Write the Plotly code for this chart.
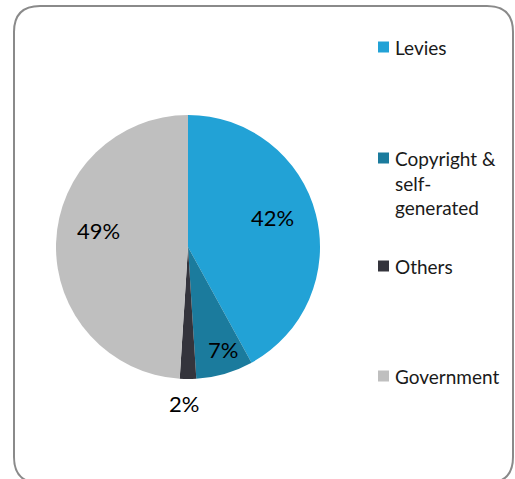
import math
import plotly.graph_objects as go

# Funding sources (share of total, %)
categories = ["Levies", "Copyright &<br>self-<br>generated", "Others", "Government"]
shares = [42, 7, 2, 49]
colors = ["#22A2D6", "#1B7B9D", "#34343C", "#BFBFBF"]

W, H = 515, 479
cx, cy, R = 188, 247, 132  # pie centre and radius in pixels

fig = go.Figure()
fig.add_trace(go.Pie(
    labels=categories,
    values=shares,
    marker=dict(colors=colors, line=dict(width=0)),
    sort=False,
    direction="clockwise",
    rotation=0,
    textinfo="none",
    hoverinfo="label+percent",
    showlegend=False,
    domain=dict(x=[(cx - R) / W, (cx + R) / W],
                y=[(H - cy - R) / H, (H - cy + R) / H]),
))

# percentage labels placed along each slice's mid-angle, with small nudges
label_radius = [0.68, 0.83, 1.21, 0.69]
label_dx = [-2, 4, -4, 2]
label_dy = [7, 3, 3, 14]
total = sum(shares)
cum = 0
annotations = []
for v, rf, dx, dy in zip(shares, label_radius, label_dx, label_dy):
    mid = (cum + v / 2) / total * 2 * math.pi
    cum += v
    px = cx + rf * R * math.sin(mid)
    py = cy - rf * R * math.cos(mid)
    annotations.append(dict(
        x=px / W, y=1 - py / H, xref="paper", yref="paper",
        xshift=dx, yshift=dy,
        text=f"{round(v / total * 100)}%", showarrow=False,
        font=dict(size=22, color="#000000", family="Lato, Open Sans, sans-serif"),
        xanchor="center", yanchor="middle",
    ))

# legend drawn on the right
shapes = []
legend_y = [47, 158, 266, 376]
for name, col, ly in zip(categories, colors, legend_y):
    shapes.append(dict(type="rect", xref="paper", yref="paper",
                       x0=378 / W, x1=389 / W,
                       y0=1 - (ly + 5.5) / H, y1=1 - (ly - 5.5) / H,
                       fillcolor=col, line=dict(width=0)))
    annotations.append(dict(
        x=393 / W, y=1 - (ly - 13) / H, xref="paper", yref="paper",
        text=name, showarrow=False, align="left",
        xanchor="left", yanchor="top",
        font=dict(size=19, color="#1A1A1A", family="Lato, Open Sans, sans-serif"),
    ))

# rounded outer frame
x0, x1 = 14 / W, 513 / W
y0, y1 = 1 - 483 / H, 1 - 6 / H
rx, ry = 26 / W, 26 / H
path = (f"M {x0 + rx},{y1} L {x1 - rx},{y1} Q {x1},{y1} {x1},{y1 - ry} "
        f"L {x1},{y0 + ry} Q {x1},{y0} {x1 - rx},{y0} "
        f"L {x0 + rx},{y0} Q {x0},{y0} {x0},{y0 + ry} "
        f"L {x0},{y1 - ry} Q {x0},{y1} {x0 + rx},{y1} Z")
shapes.append(dict(type="path", xref="paper", yref="paper", path=path,
                   line=dict(color="#8A8A8A", width=2), fillcolor="rgba(0,0,0,0)"))

fig.update_layout(
    width=W, height=H,
    margin=dict(l=0, r=0, t=0, b=0),
    paper_bgcolor="white", plot_bgcolor="white",
    shapes=shapes, annotations=annotations,
)

fig.write_html("out.html")
